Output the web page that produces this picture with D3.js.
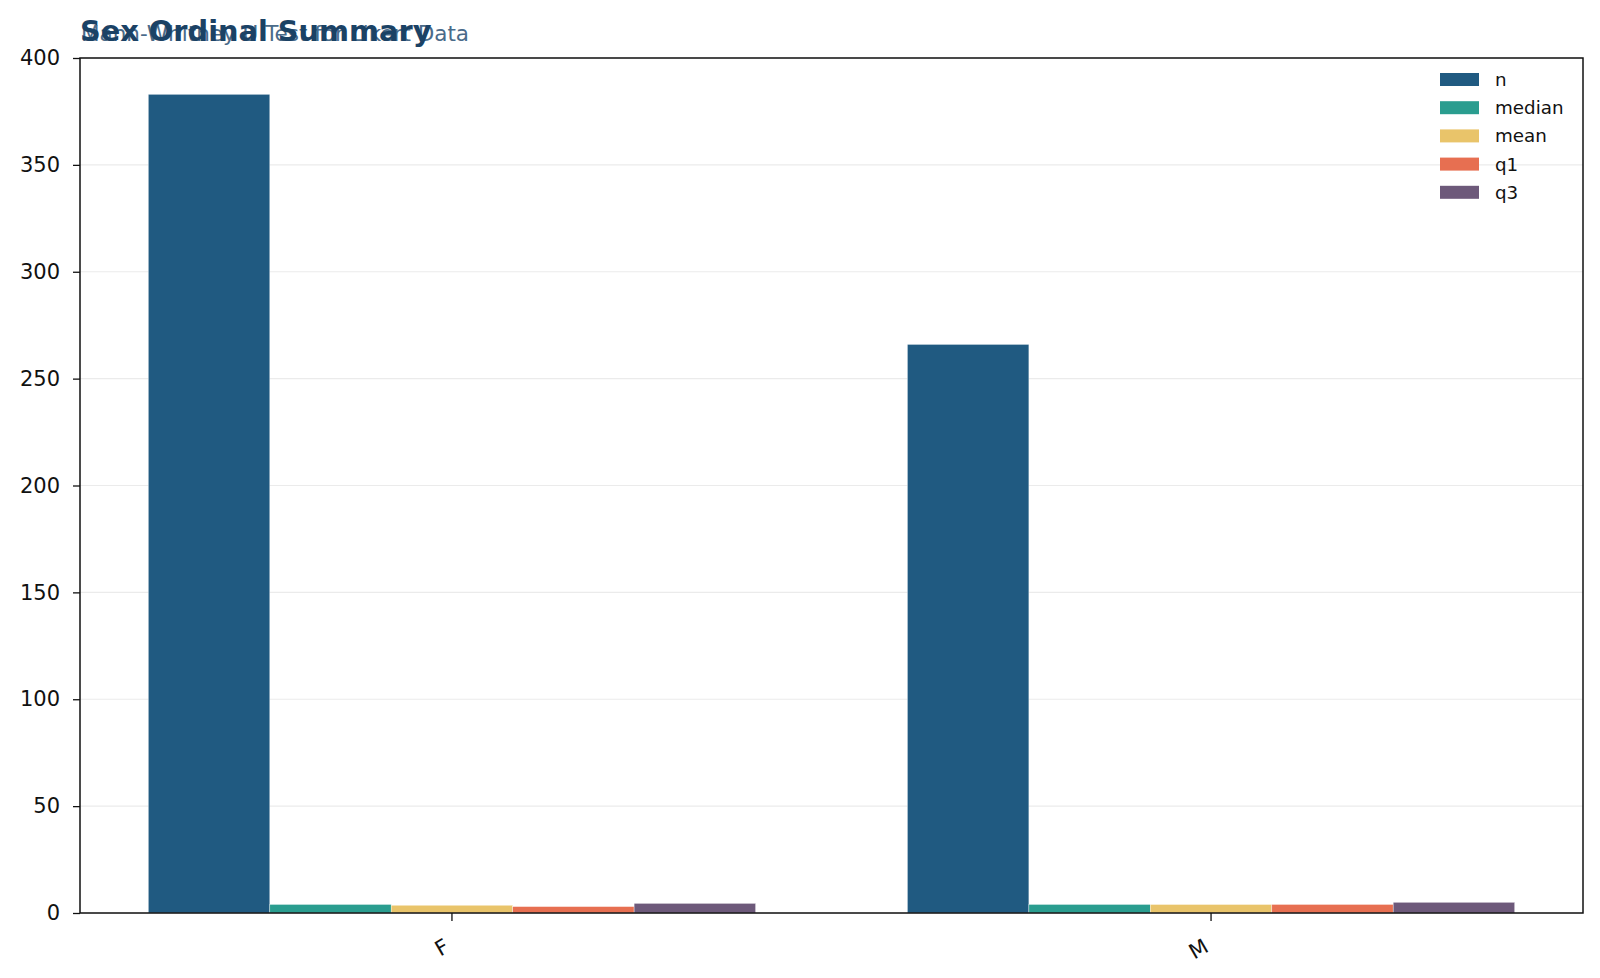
<!DOCTYPE html>
<html>
<head>
<meta charset="utf-8">
<script src="https://cdn.jsdelivr.net/npm/d3@7"></script>
<style>
  html, body { margin: 0; padding: 0; background: #ffffff; }
  svg { display: block; font-family: "DejaVu Sans", sans-serif; }
</style>
</head>
<body>
<svg id="chart" width="1600" height="978"></svg>
<script>
// ---- data ----
const categories = ["F", "M"];
const seriesNames = ["n", "median", "mean", "q1", "q3"];
const seriesColors = ["#205a81", "#2a9d8f", "#e9c46a", "#e76f51", "#6d597a"];
const nValues      = [383, 266];
const medianValues = [4, 4];
const meanValues   = [3.62, 3.98];
const q1Values     = [3, 4];
const q3Values     = [4.5, 5];
const yTicks = [0, 50, 100, 150, 200, 250, 300, 350, 400];
const titleText = "Sex Ordinal Summary";
const subtitleText = "Mann-Whitney U Test for Likert Data";

const seriesValues = [nValues, medianValues, meanValues, q1Values, q3Values];

(function () {
// ---- layout ----
const svg = d3.select("#chart");
const pl = 80, pr = 1583, pt = 58, pb = 913;

const x = d3.scaleBand().domain(categories).range([pl, pr])
  .paddingInner(0.2).paddingOuter(0.09);
const xs = d3.scaleBand().domain(seriesNames).range([0, x.bandwidth()]).padding(0);
const y = d3.scaleLinear().domain([0, 400]).range([pb, pt]);
const color = d3.scaleOrdinal().domain(seriesNames).range(seriesColors);

// gridlines
svg.append("g").selectAll("line").data(yTicks).join("line")
  .attr("x1", pl).attr("x2", pr)
  .attr("y1", d => y(d)).attr("y2", d => y(d))
  .attr("stroke", "#ebebeb").attr("stroke-width", 1.2);

// bars
const rows = [];
categories.forEach((c, ci) => {
  seriesNames.forEach((s, si) => rows.push({cat: c, series: s, value: seriesValues[si][ci]}));
});
svg.append("g").selectAll("rect").data(rows).join("rect")
  .attr("x", d => x(d.cat) + xs(d.series))
  .attr("y", d => y(d.value))
  .attr("width", xs.bandwidth())
  .attr("height", d => y(0) - y(d.value))
  .attr("fill", d => color(d.series))
  .attr("stroke", "#ffffff").attr("stroke-width", 0.6).attr("stroke-opacity", 0.6);

// axes
const yAxis = svg.append("g").attr("transform", `translate(${pl},0)`)
  .call(d3.axisLeft(y).tickValues(yTicks).tickSize(7).tickPadding(13));
yAxis.select(".domain").remove();
yAxis.selectAll("text").attr("font-size", 21).attr("fill", "#111").attr("font-family", "DejaVu Sans");
yAxis.selectAll("line").attr("stroke", "#111").attr("stroke-width", 1.3);

const xAxis = svg.append("g").attr("transform", `translate(0,${pb})`)
  .call(d3.axisBottom(x).tickSize(8).tickFormat(() => ""));
xAxis.select(".domain").remove();
xAxis.selectAll("line").attr("stroke", "#111").attr("stroke-width", 1.3);

svg.append("g").selectAll("text").data(categories).join("text")
  .attr("transform", d => `translate(${x(d) + x.bandwidth() / 2 - 9},${pb + 24}) rotate(-30)`)
  .attr("text-anchor", "end")
  .attr("dy", "0.75em")
  .attr("font-size", 21).attr("fill", "#111")
  .text(d => d);

// frame
svg.append("rect").attr("x", pl).attr("y", pt)
  .attr("width", pr - pl).attr("height", pb - pt)
  .attr("fill", "none").attr("stroke", "#111").attr("stroke-width", 1.5);

// legend
const lg = svg.append("g").attr("transform", "translate(1440,73)");
const li = lg.selectAll("g").data(seriesNames).join("g")
  .attr("transform", (d, i) => `translate(0,${i * 28.2})`);
li.append("rect").attr("width", 39).attr("height", 13).attr("fill", d => color(d));
li.append("text").attr("x", 55).attr("y", 6.5).attr("dy", "0.35em")
  .attr("font-size", 18.3).attr("fill", "#111").text(d => d);

// titles
svg.append("text").attr("x", 81).attr("y", 41)
  .attr("font-size", 21.5).attr("fill", "#4a6b8a").text(subtitleText);
svg.append("text").attr("x", 80).attr("y", 41)
  .attr("font-size", 28.8).attr("font-weight", "bold").attr("fill", "#1b4265").text(titleText);
})();
</script>
</body>
</html>
